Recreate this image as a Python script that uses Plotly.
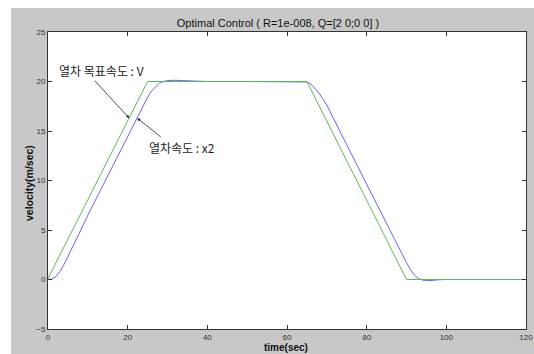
import plotly.graph_objects as go

# Target velocity V (green)
t_v = [0, 25, 65, 90, 120]
v_ref = [0.1, 20, 20, 0, 0]

# Train velocity x2 (blue)
t_x2 = [0, 1, 2, 3, 4, 5, 6, 8, 10, 15, 20, 24, 25, 26, 27, 28, 29, 30, 32, 34, 36, 40,
        50, 60, 64, 65, 66, 67, 68, 69, 70, 75, 80, 85, 90, 91, 92, 93, 94, 95, 96, 97, 98, 100, 120]
x2 = [0, 0.05, 0.3, 0.8, 1.5, 2.3, 3.1, 4.8, 6.5, 10.5, 14.5, 17.6, 18.4, 19.05, 19.5, 19.85, 20.0,
      20.1, 20.12, 20.08, 20.02, 20, 20, 20, 20, 19.95, 19.75, 19.35, 18.85, 18.25, 17.6, 13.6,
      9.6, 5.6, 1.7, 1.0, 0.45, 0.1, -0.05, -0.12, -0.12, -0.08, -0.03, 0, 0]

x_ticks = [0, 20, 40, 60, 80, 100, 120]
y_ticks = [-5, 0, 5, 10, 15, 20, 25]

title_text = "Optimal Control ( R=1e-008, Q=[2 0;0 0] )"
label_v = "열차 목표속도 : V"
label_x2 = "열차속도 : x2"

fig = go.Figure()
fig.add_trace(go.Scatter(x=t_x2, y=x2, mode="lines", line=dict(color="rgb(100,100,255)", width=1),
                         showlegend=False))
fig.add_trace(go.Scatter(x=t_v, y=v_ref, mode="lines", line=dict(color="rgb(95,180,95)", width=1),
                         showlegend=False))

W, H = 534, 354
L, R, T, B = 48, 8, 32, 25
pw, ph = W - L - R, H - T - B

def px(xp):
    return (xp - L) / pw

def py(yp):
    return (H - B - yp) / ph

axis_font = dict(family="Liberation Sans, Arial", size=8, color="#333")
fig.update_layout(
    width=W, height=H,
    margin=dict(l=L, r=R, t=T, b=B),
    paper_bgcolor="#c8c8c8",
    plot_bgcolor="white",
    title=dict(text=title_text, x=278 / W, xanchor="center", y=1 - 23 / H, yanchor="middle",
               font=dict(family="Liberation Sans, Arial", size=11, color="#111")),
    xaxis=dict(range=[0, 120], tickvals=x_ticks, ticks="inside", ticklen=4, tickcolor="#333",
               showline=True, linecolor="#333", linewidth=1, mirror="ticks", showgrid=False,
               zeroline=False, tickfont=axis_font, automargin=False),
    yaxis=dict(range=[-5, 25], tickvals=y_ticks, ticks="inside", ticklen=4, tickcolor="#333",
               showline=True, linecolor="#333", linewidth=1, mirror="ticks", showgrid=False,
               zeroline=False, tickfont=axis_font, automargin=False),
    shapes=[
        dict(type="rect", xref="paper", yref="paper", x0=px(0), x1=px(11), y0=py(H), y1=py(0),
             fillcolor="white", line=dict(width=0)),
        dict(type="rect", xref="paper", yref="paper", x0=px(0), x1=px(W), y0=py(8), y1=py(0),
             fillcolor="white", line=dict(width=0)),
    ],
    annotations=[
        dict(text="<b>time(sec)</b>", xref="paper", yref="paper", x=px(286), y=py(347.5),
             xanchor="center", yanchor="middle", showarrow=False,
             font=dict(family="Liberation Sans, Arial", size=10, color="#111")),
        dict(text="<b>velocity(m/sec)</b>", xref="paper", yref="paper", x=px(29), y=py(183),
             xanchor="center", yanchor="middle", showarrow=False, textangle=-90,
             font=dict(family="Liberation Sans, Arial", size=10.5, color="#111")),
        dict(text=label_v, xref="paper", yref="paper", x=px(57), y=py(71), xanchor="left", yanchor="middle",
             showarrow=False, font=dict(family="Noto Sans CJK KR", size=12, color="#222")),
        dict(text=label_x2, xref="paper", yref="paper", x=px(147), y=py(147), xanchor="left", yanchor="middle",
             showarrow=False, font=dict(family="Noto Sans CJK KR", size=12, color="#222")),
        dict(text="", x=20.4, y=16.3, xref="x", yref="y", ax=93 - 129, ay=78 - 117, showarrow=True,
             arrowhead=2, arrowsize=0.8, arrowwidth=0.8, arrowcolor="#222"),
        dict(text="", x=22.4, y=16.3, xref="x", yref="y", ax=162 - 137, ay=138 - 118, showarrow=True,
             arrowhead=2, arrowsize=0.8, arrowwidth=0.8, arrowcolor="#222"),
    ],
)

fig.write_html("out.html",
               post_script="document.body.style.margin='0';document.body.style.overflow='hidden';")
